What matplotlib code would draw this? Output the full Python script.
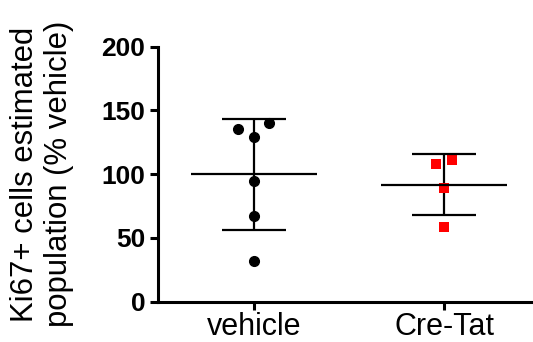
import matplotlib
matplotlib.use("Agg")
import matplotlib.pyplot as plt

# data
groups = ["vehicle", "Cre-Tat"]
vehicle_vals = [135.7, 139.9, 129.1, 94.8, 66.9, 32.0]
vehicle_jitter = [-0.083, 0.079, 0.0, 0.0, 0.0, 0.0]
cretat_vals = [108.1, 111.0, 89.5, 58.5]
cretat_jitter = [-0.04, 0.04, 0.0, 0.0]
means = [100.0, 91.8]
sds = [43.6, 24.1]

plt.rcParams["font.family"] = ["Liberation Sans", "DejaVu Sans"]

fig = plt.figure(figsize=(5.33, 3.42), dpi=100)
ax = fig.add_axes([0.2964, 0.118, 0.7036, 0.7455])

# points
ax.plot([0 + j for j in vehicle_jitter], vehicle_vals, "o", color="black",
        markersize=7, zorder=3)
ax.plot([1 + j for j in cretat_jitter], cretat_vals, "s", color="red",
        markersize=7, markeredgewidth=0, zorder=3)

# mean + SD
for i, (m, s) in enumerate(zip(means, sds)):
    ax.hlines(m, i - 0.33, i + 0.33, color="black", lw=1.6, zorder=4)
    ax.vlines(i, m - s, m + s, color="black", lw=1.6, zorder=2)
    ax.hlines([m - s, m + s], i - 0.17, i + 0.17, color="black", lw=1.6, zorder=4)

ax.set_xlim(-0.505, 1.468)
ax.set_ylim(0, 200)
ax.set_yticks([0, 50, 100, 150, 200])
ax.set_xticks([0, 1])
ax.set_xticklabels(groups, fontsize=22)
for lab in ax.get_yticklabels():
    lab.set_fontweight("bold")
    lab.set_fontsize(19)

ax.spines["top"].set_visible(False)
ax.spines["right"].set_visible(False)
ax.spines["left"].set_linewidth(2.2)
ax.spines["bottom"].set_linewidth(2.2)
ax.tick_params(width=2.2, length=6)
ax.tick_params(axis="y", pad=3)
ax.tick_params(axis="x", pad=1.5)

ax.set_ylabel("Ki67+ cells estimated\npopulation (% vehicle)", fontsize=22.4,
              linespacing=1.15)
ax.yaxis.set_label_coords(-0.225, 0.5)

fig.savefig("out.png", dpi=100)
